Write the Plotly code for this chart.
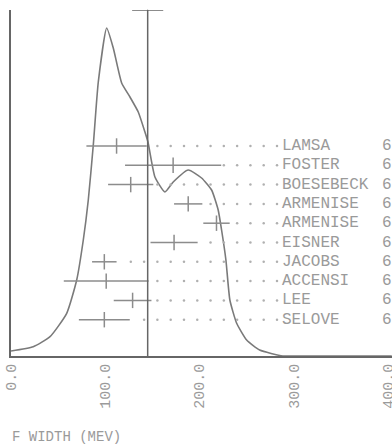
import numpy as np
import plotly.graph_objects as go

# ---- data ----
names = ["LAMSA", "FOSTER", "BOESEBECK", "ARMENISE", "ARMENISE",
         "EISNER", "JACOBS", "ACCENSI", "LEE", "SELOVE"]
years = ["6", "6", "6", "6", "6", "6", "6", "6", "6", "6"]
widths = [112, 172, 127, 188, 218, 173, 99, 101, 129, 99]
errors = [32, 51, 24, 15, 14, 25, 13, 45, 20, 27]

avg_width = 145
avg_error = 16.5

ideo_x = [0, 23.6, 41.4, 59.1, 69.7, 76.7, 82, 87.3, 92.6, 101.5, 108.5,
          117.4, 126.2, 135, 142.1, 145.3, 152.7, 163.3, 172.1, 188, 202.2,
          212.8, 219.8, 223.4, 228, 232.2, 239.3, 250, 263.8, 288.4, 306, 404]
ideo_y = [5, 9.3, 19.3, 42.7, 76, 116, 156, 211, 274, 328, 308,
          273, 259, 244, 224, 214, 179, 164, 174, 186, 178,
          166, 146, 126, 96, 56, 33, 16, 6, 0, 0, 0]

tick_vals = [0, 100, 200, 300, 400]
tick_text = ["0.0", "100.0", "200.0", "300.0", "400.0"]

# ---- styling / layout constants ----
YMAX = 346
ROW_TOP = 210
ROW_STEP = 19.3
LABEL_X = 287.5
YEAR_X = 393.6
DOT_END = 282.2
DOT_STEP = 14.1
FONT = "Liberation Mono"
C_AXIS = "#666666"
C_CURVE = "#7a7a7a"
C_BAR = "#8c8c8c"
C_DOT = "#b0b0b0"
C_TEXT = "#9a9a9a"

row_y = [ROW_TOP - i * ROW_STEP for i in range(len(names))]

fig = go.Figure()

# ideogram curve
fig.add_trace(go.Scatter(x=ideo_x, y=ideo_y, mode="lines",
                         line=dict(color=C_CURVE, width=1.6, shape="spline", smoothing=0.5),
                         hoverinfo="skip"))

# leader dots
dx, dy = [], []
for c, e, yy in zip(widths, errors, row_y):
    xs = DOT_END
    while xs > c + e + 2:
        dx.append(xs)
        dy.append(yy)
        xs -= DOT_STEP
fig.add_trace(go.Scatter(x=dx, y=dy, mode="markers",
                         marker=dict(symbol="circle", size=2.5, color=C_DOT),
                         hoverinfo="skip"))

# measurements
fig.add_trace(go.Scatter(x=widths, y=row_y, mode="markers",
                         marker=dict(symbol="line-ns-open", size=11, color=C_BAR,
                                     line=dict(color=C_BAR, width=1.5)),
                         error_x=dict(type="data", array=errors, width=0,
                                      thickness=1.5, color=C_BAR),
                         hoverinfo="skip"))

# average line + error
fig.add_trace(go.Scatter(x=[avg_width, avg_width], y=[0, YMAX], mode="lines",
                         line=dict(color=C_AXIS, width=1.5), hoverinfo="skip"))
fig.add_trace(go.Scatter(x=[avg_width], y=[YMAX], mode="markers",
                         marker=dict(size=1, color=C_AXIS),
                         error_x=dict(type="data", array=[avg_error], width=0,
                                      thickness=1.5, color=C_AXIS),
                         cliponaxis=False, hoverinfo="skip"))

# labels
fig.add_trace(go.Scatter(x=[LABEL_X] * len(names), y=row_y, mode="text",
                         text=names, textposition="middle right",
                         textfont=dict(family=FONT, size=16, color=C_TEXT),
                         cliponaxis=False, hoverinfo="skip"))
fig.add_trace(go.Scatter(x=[YEAR_X] * len(names), y=row_y, mode="text",
                         text=years, textposition="middle right",
                         textfont=dict(family=FONT, size=16, color=C_TEXT),
                         cliponaxis=False, hoverinfo="skip"))

fig.add_annotation(text="F WIDTH (MEV)", xref="paper", yref="paper",
                   x=-0.003, y=-0.235, xanchor="left", yanchor="middle",
                   showarrow=False,
                   font=dict(family=FONT, size=14, color=C_TEXT))

fig.update_layout(
    width=392, height=446,
    margin=dict(l=11, r=0, t=10, b=90),
    paper_bgcolor="white", plot_bgcolor="white",
    showlegend=False,
    xaxis=dict(range=[0, 404.2], showline=True, linecolor=C_AXIS, linewidth=1.5,
               showgrid=False, zeroline=False, tickvals=tick_vals, ticktext=tick_text,
               tickangle=-90, ticks="", automargin=False, ticklabeloverflow="allow",
               tickfont=dict(family=FONT, size=15, color=C_TEXT)),
    yaxis=dict(range=[0, YMAX], showline=True, linecolor=C_AXIS, linewidth=1.5,
               showgrid=False, zeroline=False, showticklabels=False, ticks="",
               automargin=False),
)

fig.write_html("out.html")
